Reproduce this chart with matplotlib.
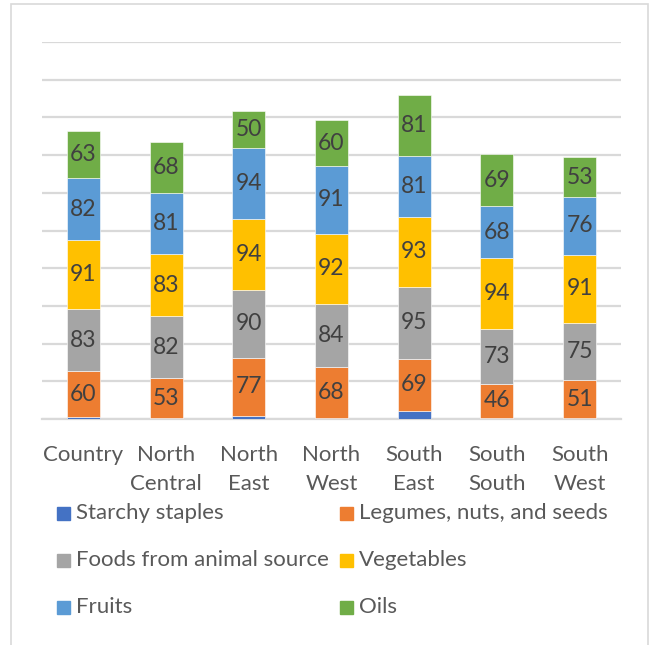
import matplotlib
matplotlib.use("Agg")
import matplotlib.pyplot as plt
from matplotlib.patches import Rectangle
import numpy as np

categories = ["Country", "North\nCentral", "North\nEast", "North\nWest",
              "South\nEast", "South\nSouth", "South\nWest"]
series = ["Starchy staples", "Legumes, nuts, and seeds",
          "Foods from animal source", "Vegetables", "Fruits", "Oils"]

starchy = [3, 1, 4, 1, 11, 1, 1]
legumes = [60, 53, 77, 68, 69, 46, 51]
animal = [83, 82, 90, 84, 95, 73, 75]
vegetables = [91, 83, 94, 92, 93, 94, 91]
fruits = [82, 81, 94, 91, 81, 68, 76]
oils = [63, 68, 50, 60, 81, 69, 53]

values = [starchy, legumes, animal, vegetables, fruits, oils]
colors = ["#4472C4", "#ED7D31", "#A5A5A5", "#FFC000", "#5B9BD5", "#70AD47"]
show_labels = [False, True, True, True, True, True]

FONT = "Lato"
TEXT = "#595959"
LABEL = "#404040"
GRID = "#D9D9D9"

fig = plt.figure(figsize=(6.55, 6.45), dpi=100)
W, H = 655, 645

# outer chart frame
fig.patches.append(Rectangle((11 / W, -0.05), (648 - 11) / W, 1.05 - 4 / H,
                             transform=fig.transFigure, fill=False,
                             edgecolor=GRID, linewidth=1.2))

ax = fig.add_axes([42 / W, 1 - 419 / H, (621 - 42) / W, (419 - 42) / H])
x = np.arange(len(categories))
bottom = np.zeros(len(categories))
for vals, col, lab in zip(values, colors, show_labels):
    vals = np.array(vals, dtype=float)
    bars = ax.bar(x, vals, width=0.4, bottom=bottom, color=col,
                  edgecolor="white", linewidth=0.4, zorder=3)
    if lab:
        ax.bar_label(bars, labels=[f"{v:.0f}" for v in vals],
                     label_type="center", fontsize=16.5, color=LABEL,
                     family=FONT)
    bottom += vals

ax.set_xlim(-0.5, len(categories) - 0.5)
ax.set_ylim(0, 500)
ax.set_yticks(np.arange(0, 501, 50))
ax.yaxis.grid(True, color=GRID, linewidth=1.6, zorder=0)
ax.set_axisbelow(True)
ax.tick_params(axis="y", left=False, labelleft=False)
ax.tick_params(axis="x", bottom=False, pad=15)
ax.set_xticks(x)
ax.set_xticklabels(categories, fontsize=16, color=TEXT, family=FONT,
                   linespacing=1.6, va="top")
for s in ["top", "right", "left"]:
    ax.spines[s].set_visible(False)
ax.spines["bottom"].set_color(GRID)
ax.spines["bottom"].set_linewidth(1.6)

# legend laid out in two columns, three rows
col_x = [57, 340]
row_y = [513, 560, 607]
sq = 13
for i, (name, col) in enumerate(zip(series, colors)):
    r, c = divmod(i, 2)
    fig.patches.append(Rectangle((col_x[c] / W, 1 - (row_y[r] + sq / 2) / H),
                                 sq / W, sq / H, transform=fig.transFigure,
                                 color=col))
    fig.text((col_x[c] + sq + 6) / W, 1 - row_y[r] / H, name, fontsize=16,
             color=TEXT, family=FONT, va="center", ha="left")

fig.savefig("out.png", dpi=100)
